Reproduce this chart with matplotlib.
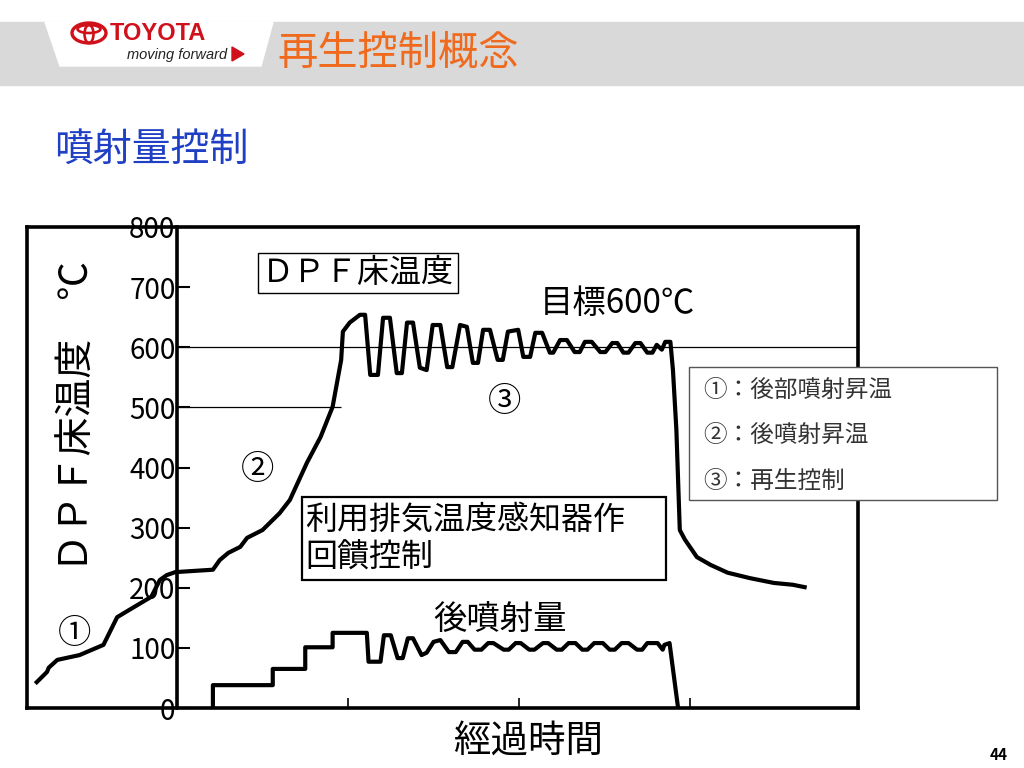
import numpy as np
import matplotlib
matplotlib.use("Agg")
import matplotlib.pyplot as plt
from matplotlib.patches import Rectangle, Polygon, Ellipse

plt.rcParams['font.family'] = ['Noto Sans CJK JP', 'DejaVu Sans']

# DPF bed temperature (time in tick units, temperature in deg C)
temp_t = [-8.2, -7.6, -7.5, -7.0, -5.7, -4.3, -3.5, -2.8, -1.5, -1.0, -0.6, -0.1,
          2.1, 2.5, 3.0, 3.7, 4.1, 5.0, 6.0, 6.6, 7.6, 8.4, 9.1, 9.6, 9.7, 10.1,
          10.7, 11.0, 11.3, 11.75, 12.05, 12.45, 12.85, 13.15, 13.45, 13.8, 14.2,
          14.6, 14.95, 15.4, 15.8, 16.1, 16.55, 16.95, 17.3, 17.6, 17.9, 18.3,
          18.75, 19.05, 19.35, 19.95, 20.25, 20.65, 20.95, 21.35, 21.8, 22.0,
          22.4, 22.8, 23.25, 23.55, 23.85, 24.25, 24.75, 25.05, 25.45, 25.75,
          26.1, 26.4, 26.8, 27.1, 27.5, 27.8, 28.05, 28.35, 28.55, 28.85, 29.0,
          29.2, 29.4, 29.7, 30.4, 31.2, 32.2, 33.5, 34.9, 36.0, 36.7]
temp_c = [43, 60, 67, 80, 88, 105, 151, 163, 185, 213, 221, 226,
          230, 246, 258, 268, 283, 296, 324, 346, 408, 451, 501, 579, 626, 641,
          654, 654, 554, 554, 649, 649, 557, 557, 641, 641, 566,
          562, 637, 637, 567, 567, 637, 634, 574, 574, 629, 629,
          579, 579, 626, 629, 584, 584, 624, 624, 591, 591,
          612, 612, 592, 592, 609, 609, 592, 592, 607, 607,
          591, 591, 607, 607, 591, 591, 604, 596, 609, 609, 562,
          463, 296, 280, 251, 238, 225, 216, 208, 205, 201]

# post injection amount (drawn on the same scale)
inj_t = [2.1, 2.1, 5.6, 5.6, 7.5, 7.5, 9.1, 9.1, 11.1, 11.2, 11.9, 12.1, 12.5,
         12.9, 13.2, 13.5, 13.8, 14.3, 14.6, 15.0, 15.4, 15.9, 16.3, 16.7, 17.0,
         17.4, 17.8, 18.2, 18.5, 19.1, 19.4, 19.8, 20.1, 20.6, 20.9, 21.4, 21.7,
         22.2, 22.5, 22.9, 23.3, 23.7, 24.0, 24.4, 24.9, 25.3, 25.6, 26.0, 26.4,
         26.9, 27.2, 27.5, 28.1, 28.4, 28.5, 28.8, 29.3]
inj_v = [0, 38, 38, 65, 65, 101, 101, 125, 125, 77, 77, 121, 121,
         83, 83, 116, 116, 88, 92, 110, 113, 93, 93, 110, 110,
         97, 97, 108, 108, 97, 97, 108, 108, 97, 97, 108, 108,
         97, 97, 108, 108, 97, 97, 108, 108, 97, 97, 108, 108,
         97, 97, 108, 108, 97, 105, 108, 0]

y_ticks = [0, 100, 200, 300, 400, 500, 600, 700, 800]
x_ticks = [10, 20, 30]
legend_lines = ["①：後部噴射昇温", "②：後噴射昇温", "③：再生控制"]

W, H = 1024, 768
fig = plt.figure(figsize=(10.24, 7.68), dpi=100)

def box(l, t, r, b):
    return [l / W, 1 - b / H, (r - l) / W, (b - t) / H]

# main frame with the curves
ax = fig.add_axes(box(27, 227, 858, 708))
ax.set_xlim(-8.77, 39.82)
ax.set_ylim(0, 800)
ax.plot(temp_t, temp_c, color='black', lw=3, solid_joinstyle='round')
ax.plot(inj_t, inj_v, color='black', lw=3, solid_joinstyle='round')
ax.hlines(600, 0, 39.82, color='black', lw=0.9)
ax.hlines(500, 0, 9.6, color='black', lw=0.9)
ax.set_yticks([])
ax.set_xticks(x_ticks)
ax.set_xticklabels([])
ax.tick_params(axis='x', direction='in', length=7, width=1.2)
for s in ax.spines.values():
    s.set_linewidth(2.6)

# y axis drawn at time 0
axy = fig.add_axes(box(177, 227, 858, 708))
axy.patch.set_alpha(0)
axy.set_ylim(0, 800)
axy.set_xticks([])
axy.set_yticks(y_ticks)
axy.tick_params(axis='y', direction='in', length=9, width=1.5, pad=1, labelsize=20)
for k in ['top', 'right', 'bottom']:
    axy.spines[k].set_visible(False)
axy.spines['left'].set_linewidth(2.6)

# overlay in pixel coordinates for slide decoration and notes
ov = fig.add_axes([0, 0, 1, 1])
ov.set_xlim(0, W)
ov.set_ylim(H, 0)
ov.axis('off')
ov.patch.set_alpha(0)

ov.add_patch(Rectangle((0, 22), W, 63, color='#d9d9d9', zorder=0))
ov.add_patch(Polygon([(45, 22), (273, 22), (261, 66), (60, 66)], closed=True,
                     color='white', zorder=1))
red = '#d0101a'
ov.add_patch(Ellipse((89, 33), 34, 20, fill=False, ec=red, lw=2.4, zorder=2))
ov.add_patch(Ellipse((89, 29), 23, 8, fill=False, ec=red, lw=1.9, zorder=2))
ov.add_patch(Ellipse((89, 34), 9, 18, fill=False, ec=red, lw=1.9, zorder=2))
ov.text(110, 33, "TOYOTA", family='Liberation Sans', fontweight='bold', fontsize=17,
        color=red, va='center', ha='left', zorder=3)
ov.text(227, 55, "moving forward", family='Liberation Sans', style='italic', fontsize=10.5,
        color='#222222', va='center', ha='right', zorder=3)
ov.add_patch(Polygon([(232, 47), (232, 61), (244, 54)], closed=True, color=red, zorder=3))
ov.text(277, 53, "再生控制概念", fontsize=29, color='#f06a1e', va='center', ha='left')

ov.text(54, 150, "噴射量控制", fontsize=28, color='#1f3fc4', va='center', ha='left')

ov.text(78, 416, "ＤＰＦ床温度　℃", fontsize=28, rotation=90, va='center', ha='center')

ov.text(358, 273, "ＤＰＦ床温度", fontsize=23, va='center', ha='center',
        bbox=dict(boxstyle='square,pad=0.12', fc='white', ec='black', lw=1))
ov.text(540, 303, "目標600℃", fontsize=24, va='center', ha='left')
ov.text(505, 402, "③", fontsize=24, va='center', ha='center')
ov.text(258, 470, "②", fontsize=24, va='center', ha='center')
ov.text(75, 633, "①", fontsize=24, va='center', ha='center')

ov.add_patch(Rectangle((302, 497), 364, 83, fill=False, ec='black', lw=1.6, zorder=4))
ov.text(305, 520, "利用排気温度感知器作", fontsize=23, va='center', ha='left')
ov.text(305, 558, "回饋控制", fontsize=23, va='center', ha='left')

ov.text(500, 620, "後噴射量", fontsize=24, va='center', ha='center')
ov.text(528, 742, "經過時間", fontsize=27, va='center', ha='center')

ov.add_patch(Rectangle((689, 367), 308, 133, fc='white', ec='#555555', lw=1, zorder=5))
for i, line in enumerate(legend_lines):
    ov.text(703, 390 + i * 45.5, line, fontsize=17, color='#333333',
            va='center', ha='left', zorder=6)

ov.text(1008, 755, "44", fontsize=11, fontweight='bold', va='center', ha='right')

fig.savefig("out.png", dpi=100)
